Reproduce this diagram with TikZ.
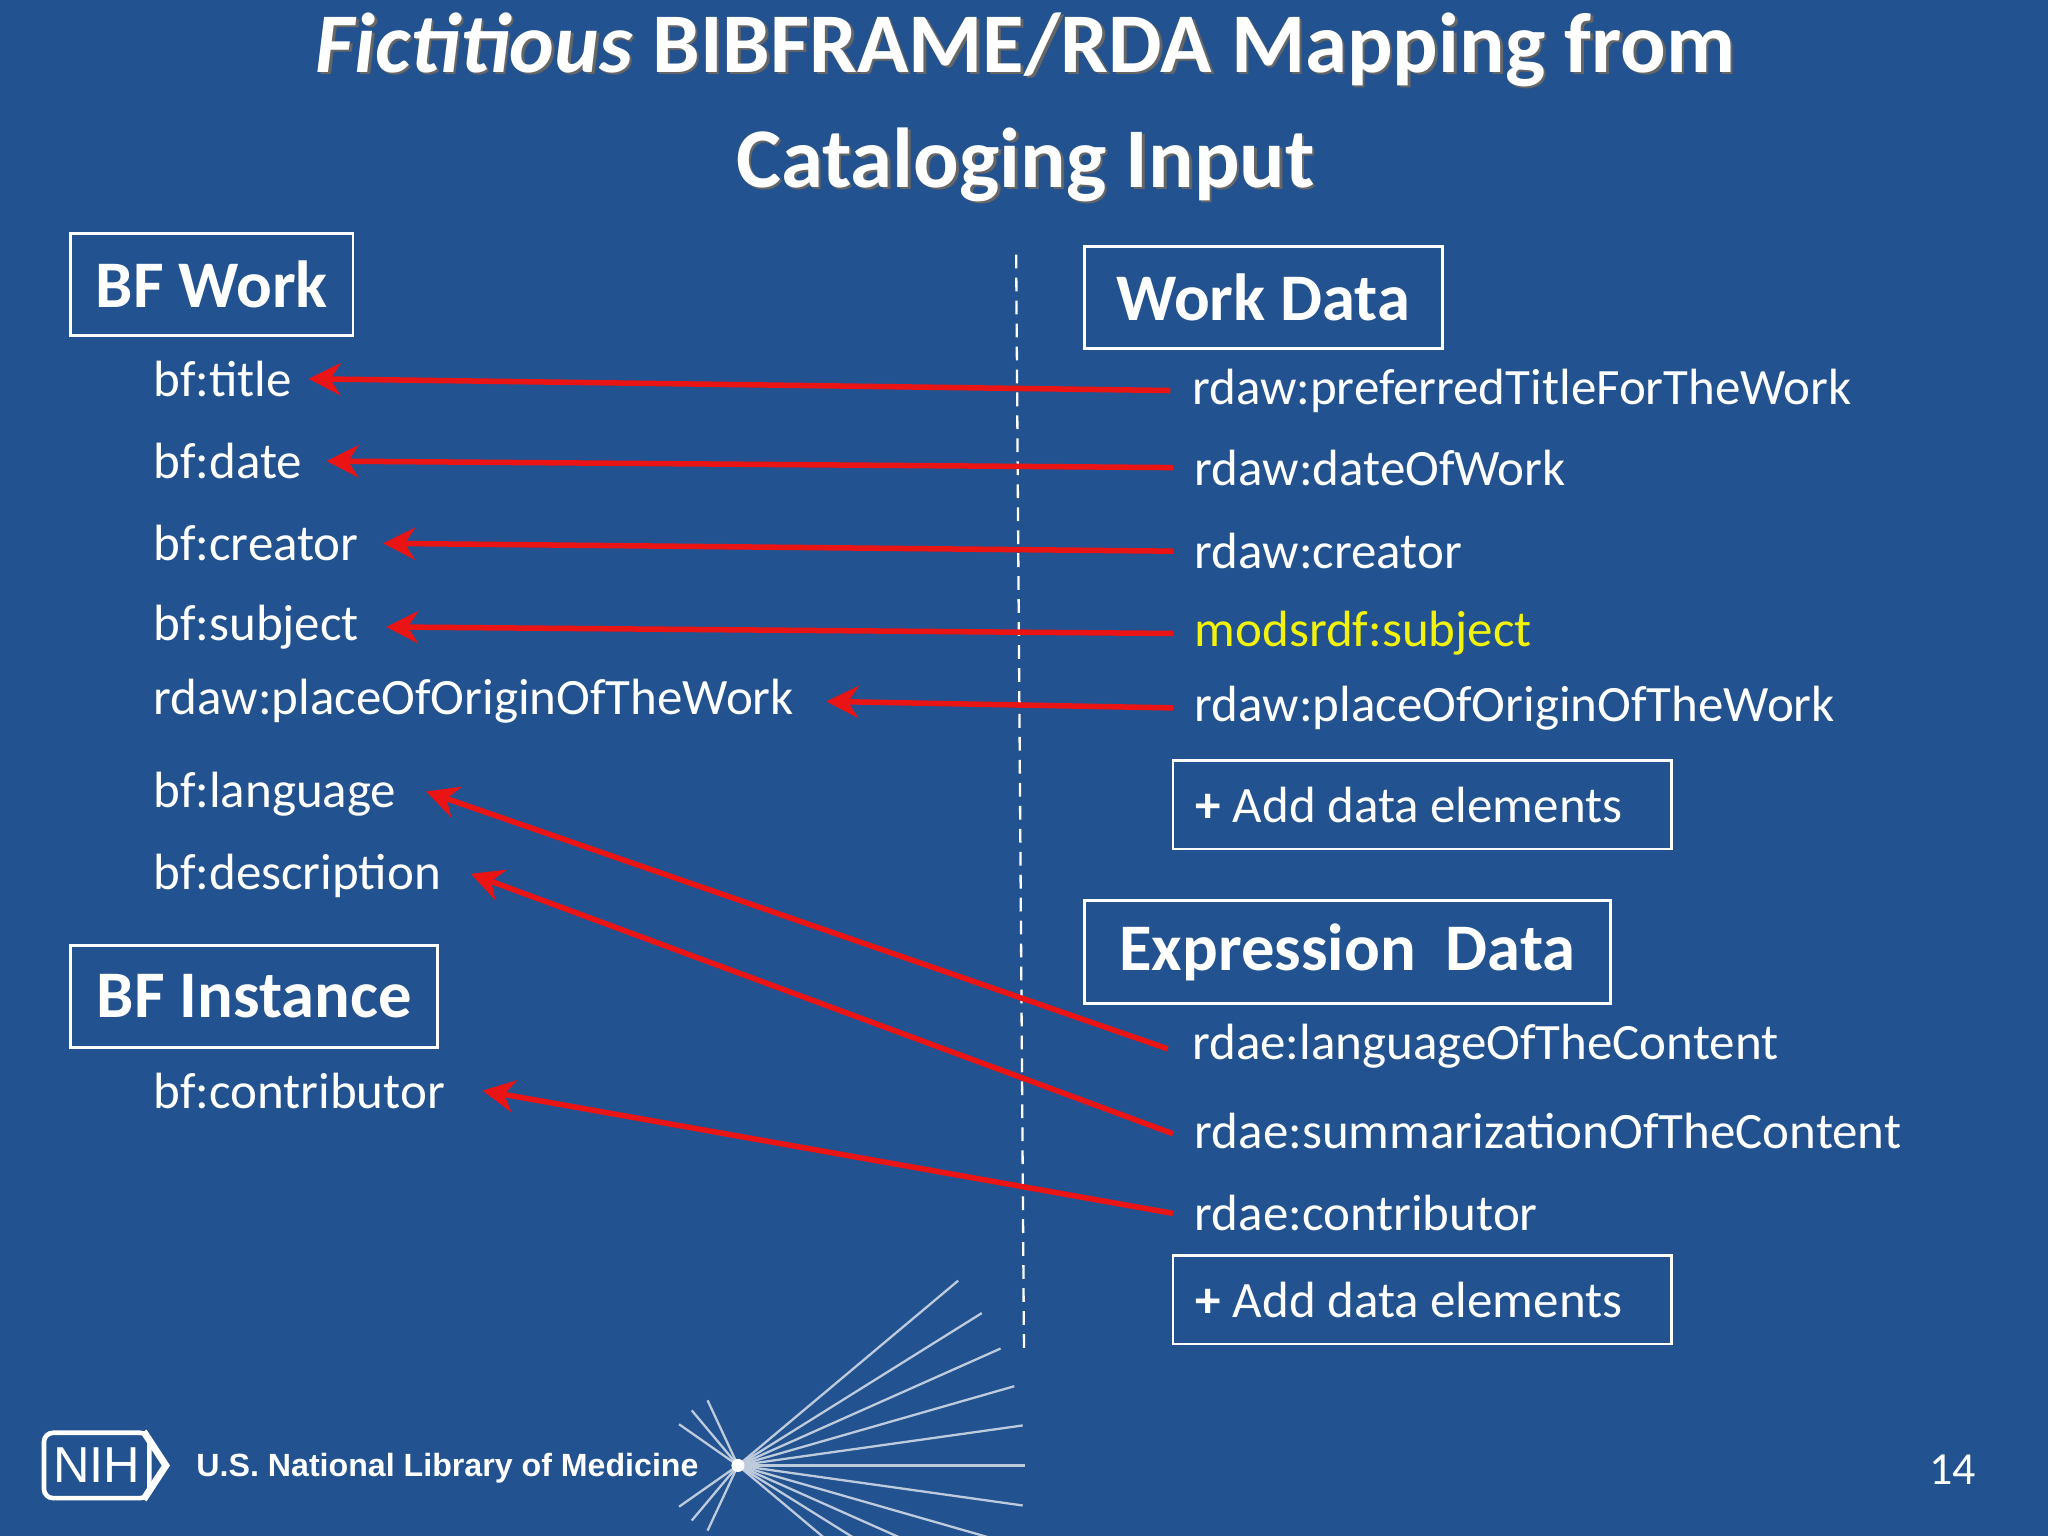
\documentclass[tikz,border=0pt]{standalone}
\usepackage{fontspec}
\setmainfont{Carlito}
\newfontfamily\logofont{Liberation Sans}
\usetikzlibrary{arrows.meta}
\definecolor{bg}{HTML}{22528F}
\definecolor{yel}{HTML}{F2F20A}
\begin{document}
\begin{tikzpicture}[x=0.01cm,y=-0.01cm,
  txt/.style={anchor=west,text=white,font=\fontsize{11.1pt}{12pt}\selectfont,inner sep=0pt},
  hdr/.style={anchor=west,draw=white,line width=0.6pt,text=white,font=\fontsize{14.5pt}{16pt}\selectfont\bfseries,inner xsep=5pt,inner ysep=5pt},
  add/.style={draw=white,line width=0.6pt,text=white,font=\fontsize{11.1pt}{12pt}\selectfont,inner xsep=5pt,inner ysep=5pt,anchor=west},
  map/.style={draw={rgb,255:red,235;green,20;blue,20},line width=1.2pt,-{Stealth[length=7pt,width=7pt]}}]
\fill[bg] (0,0) rectangle (1568,1176);
\useasboundingbox (0,0) rectangle (1568,1176);
% title
\foreach \dx/\c in {2/black!60, 0/white}{
\node[text=\c,font=\fontsize{18.5pt}{23pt}\selectfont\bfseries,align=center] (t\dx) at (785+\dx,82+\dx)
 {\textit{Fictitious} BIBFRAME/RDA Mapping from\\[2pt]Cataloging Input};}
% headers
\node[hdr,minimum width=2.16cm, minimum height=0.78cm] (bfw) at (53,218) {BF Work};
\node[hdr,minimum width=2.81cm, minimum height=0.78cm] (bfi) at (53,763) {BF Instance};
\node[hdr,minimum width=2.74cm, minimum height=0.78cm,inner xsep=0.17cm] (wd) at (829,228) {Work Data\hfill};
\node[hdr,minimum width=4.03cm, minimum height=0.78cm,inner xsep=0.17cm] (ed) at (829,729) {Expression\ \ Data\hfill};
% left texts
\node[txt] (l1) at (117,290) {bf:title};
\node[txt] (l2) at (117,353) {bf:date};
\node[txt] (l3) at (117,416) {bf:creator};
\node[txt] (l4) at (117,480) {bf:subject};
\node[txt] (l5) at (117,537) {rdaw:placeOfOriginOfTheWork};
\node[txt] (l6) at (117,608) {bf:language};
\node[txt] (l7) at (117,671) {bf:description};
\node[txt] (l8) at (117,835) {bf:contributor};
% right texts
\node[txt] (r1) at (912,299) {rdaw:preferredTitleForTheWork};
\node[txt] (r2) at (914,358) {rdaw:dateOfWork};
\node[txt] (r3) at (914,422) {rdaw:creator};
\node[txt,text=yel] (r4) at (914,485) {modsrdf:subject};
\node[txt] (r5) at (914,542) {rdaw:placeOfOriginOfTheWork};
\node[add,minimum width=3.75cm,minimum height=0.68cm] (a1) at (897,616) {\textbf{+} Add data elements\hspace*{0.2cm}};
\node[txt] (r6) at (912,801) {rdae:languageOfTheContent};
\node[txt] (r7) at (914,866) {rdae:summarizationOfTheContent};
\node[txt] (r8) at (914,929) {rdae:contributor};
\node[add,minimum width=3.75cm,minimum height=0.68cm] (a2) at (897,995) {\textbf{+} Add data elements\hspace*{0.2cm}};
% divider
\coordinate (d1) at (778,195); \coordinate (d2) at (784,1035);
\draw[white,line width=0.5pt,dash pattern=on 3pt off 2pt] (d1) -- (d2);
% arrows
\draw[map] ([xshift=-0.16cm]r1.west) -- ([xshift=0.12cm]l1.east);
\draw[map] ([xshift=-0.16cm]r2.west) -- ([xshift=0.18cm]l2.east);
\draw[map] ([xshift=-0.16cm]r3.west) -- ([xshift=0.18cm]l3.east);
\draw[map] ([xshift=-0.16cm]r4.west) -- ([xshift=0.2cm]l4.east);
\draw[map] ([xshift=-0.16cm]r5.west) -- ([xshift=0.24cm]l5.east);
\draw[map] ([xshift=-0.18cm,yshift=-0.02cm]r6.west) -- ([xshift=0.22cm,yshift=0.02cm]l6.east);
\draw[map] ([xshift=-0.16cm,yshift=-0.02cm]r7.west) -- ([xshift=0.22cm,yshift=0.02cm]l7.east);
\draw[map] ([xshift=-0.16cm]r8.west) -- ([xshift=0.28cm]l8.east);
% logo
\node[draw=white,line width=1pt,rounded corners=2pt,text=white,font=\logofont\fontsize{11pt}{12pt}\selectfont,inner sep=2pt,minimum height=0.5cm,minimum width=0.68cm] (nih) at (74,1122) {NIH};
\coordinate (c1) at (110,1096); \coordinate (c2) at (127,1122); \coordinate (c3) at (110,1148);
\draw[white,line width=1.5pt] (c1) -- (c2) -- (c3);
\node[anchor=west,text=white,font=\logofont\fontsize{7pt}{9pt}\selectfont\bfseries] (nlm) at (138,1124) {U.S. National Library of Medicine};
\coordinate (sc) at (565,1122);
\foreach \a in {-40,-32,...,40}{\draw[white!70!bg,line width=0.5pt] (sc) -- ++({\a}:{2.2cm});}
\foreach \a in {115,130,145,215,230,245}{\draw[white!70!bg,line width=0.5pt] (sc) -- ++({\a}:{0.55cm});}
\fill[white] (sc) circle (0.05cm);
\node[text=white,font=\fontsize{10pt}{12pt}\selectfont] (pg) at (1495,1125) {14};
\end{tikzpicture}
\end{document}
